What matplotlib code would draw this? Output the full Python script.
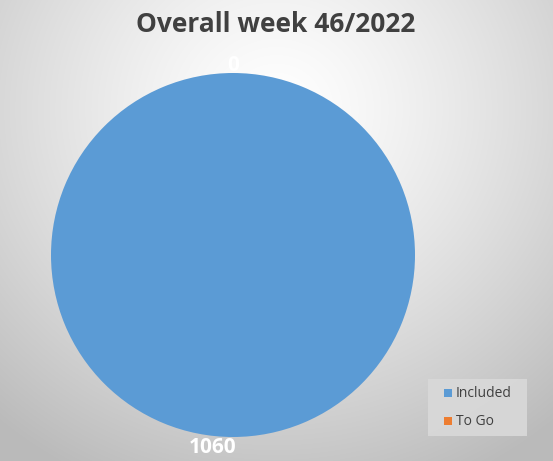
import numpy as np
import matplotlib
matplotlib.use("Agg")
import matplotlib.pyplot as plt
from matplotlib.patches import Rectangle

categories = ["Included", "To Go"]
values = [1060, 0]
colors = ["#5B9BD5", "#ED7D31"]
title = "Overall week 46/2022"

W, H = 553, 461
fig = plt.figure(figsize=(W / 100, H / 100), dpi=100)

# radial gradient background
bg = fig.add_axes([0, 0, 1, 1])
yy, xx = np.mgrid[0:H, 0:W]
d = np.sqrt((xx - 276) ** 2 + ((yy - 110) * 1.05) ** 2) / 430
d = np.clip(d, 0, 1)
c = 1.0 - 0.27 * d ** 1.3
img = np.dstack([c, c, c])
bg.imshow(img, extent=[0, W, H, 0], aspect="auto", interpolation="bilinear")
bg.set_xlim(0, W)
bg.set_ylim(H, 0)
bg.axis("off")

# pie
cx, cy, r = 233, 255, 182
ax = fig.add_axes([(cx - r) / W, (H - cy - r) / H, 2 * r / W, 2 * r / H])
wedges, texts = ax.pie(values, colors=colors, startangle=90, counterclock=False,
                       labels=[str(v) for v in values], labeldistance=1.02,
                       wedgeprops=dict(linewidth=0))
for t in texts:
    t.set_color("white")
    t.set_fontsize(15)
    t.set_fontweight("bold")
    t.set_fontfamily("Open Sans")
    t.set_ha("center")
    t.set_va("center")
    t.set_clip_on(False)
x0, y0 = texts[0].get_position()
texts[0].set_position((x0 - 0.11, y0 - 0.04))
x1, y1 = texts[1].get_position()
texts[1].set_position((x1, y1 + 0.02))
ax.set_xlim(-1, 1)
ax.set_ylim(-1, 1)
ax.set_aspect("equal")
ax.axis("off")

fig.text(276 / W, 1 - 24 / H, title, ha="center", va="center", fontsize=19,
         fontweight="bold", color="#404040", family="Open Sans")

# legend
lx0, ly0, lw, lh = 428, 379, 99, 57
bg.add_patch(Rectangle((lx0, ly0), lw, lh, facecolor="#d9d9d9", edgecolor="none", alpha=0.9))
for i, (name, col) in enumerate(zip(categories, colors)):
    y = 393 + i * 28
    bg.add_patch(Rectangle((444, y - 4), 8, 8, facecolor=col, edgecolor="none"))
    bg.text(456, y, name, ha="left", va="center", fontsize=10, color="#404040",
            family="Open Sans")

fig.savefig("out.png", dpi=100)
